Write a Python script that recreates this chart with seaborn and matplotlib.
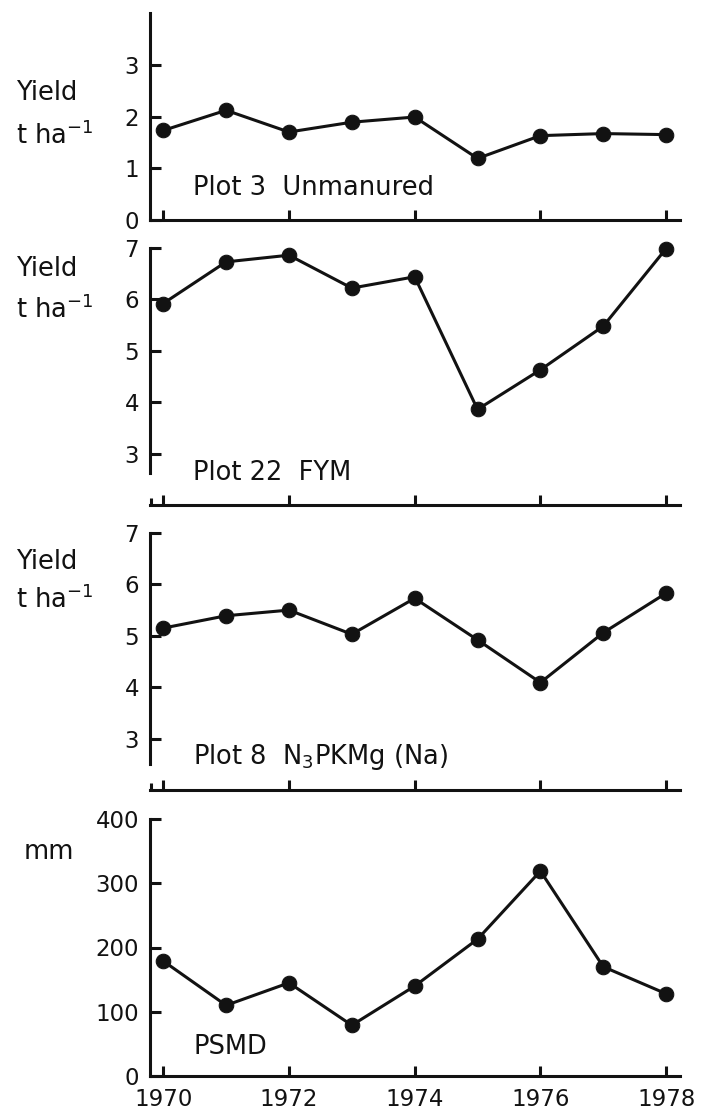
import matplotlib
matplotlib.use("Agg")
import matplotlib.pyplot as plt
import seaborn as sns
import pandas as pd
import numpy as np

# data
years = [1970, 1971, 1972, 1973, 1974, 1975, 1976, 1977, 1978]
plot3_unmanured = [1.73, 2.12, 1.70, 1.89, 1.99, 1.19, 1.63, 1.67, 1.65]
plot22_fym = [5.92, 6.73, 6.86, 6.22, 6.44, 3.86, 4.63, 5.48, 6.99]
plot8_n3pkmg = [5.15, 5.39, 5.50, 5.03, 5.73, 4.92, 4.09, 5.06, 5.83]
psmd_mm = [179, 110, 145, 79, 140, 213, 319, 170, 128]
year_ticks = [1970, 1972, 1974, 1976, 1978]

sns.set_style("ticks")
plt.rcParams['font.family'] = ['DejaVu Sans']
ink = "#121212"

fig = plt.figure(figsize=(7.05, 11.15), dpi=100)
fig.patch.set_facecolor("white")

W, H = 705.0, 1115.0
left, right = 150 / W, 530 / W

# (values, ylim, yticks, left spine bounds, axis top px, axis bottom px, label text, label y)
panels = [
    (plot3_unmanured, (0, 4), [0, 1, 2, 3], (0, 4), 13, 220, "Plot 3  Unmanured", 0.62),
    (plot22_fym, (2, 7), [3, 4, 5, 6, 7], (2.63, 7), 248, 505, "Plot 22  FYM", 2.63),
    (plot8_n3pkmg, (2, 7), [3, 4, 5, 6, 7], (2.5, 7), 533, 790, "Plot 8  N$_3$PKMg (Na)", 2.65),
    (psmd_mm, (0, 400), [0, 100, 200, 300, 400], (0, 400), 819, 1076, "PSMD", 45),
]

axes = []
for i, (vals, ylim, yt, bounds, top, bot, lab, laby) in enumerate(panels):
    ax = fig.add_axes([left, 1 - bot / H, right, (bot - top) / H])
    df = pd.DataFrame({"year": years, "value": vals})
    sns.lineplot(data=df, x="year", y="value", ax=ax, color=ink, linewidth=2.2,
                 marker="o", markersize=10.5, markeredgecolor=ink, markerfacecolor=ink,
                 clip_on=False)
    ax.set_xlim(1969.79, 1978.22)
    ax.set_ylim(*ylim)
    ax.set_yticks(yt)
    ax.set_xticks(year_ticks)
    ax.spines["top"].set_visible(False)
    ax.spines["right"].set_visible(False)
    for s in ("left", "bottom"):
        ax.spines[s].set_linewidth(2.2)
        ax.spines[s].set_color(ink)
    ax.spines["left"].set_bounds(*bounds)
    ax.tick_params(axis="y", direction="in", length=8, width=2.2, pad=8,
                   labelsize=16.5, colors=ink)
    ax.tick_params(axis="x", direction="in", length=7, width=2.2, pad=9,
                   labelsize=16.5, colors=ink)
    if bounds[0] > ylim[0]:
        # small end cap at the left end of the detached x axis
        ax.set_xticks([1969.8], minor=True)
        ax.tick_params(axis="x", which="minor", direction="in", length=5, width=2.2, colors=ink)
    if i < 3:
        ax.set_xticklabels([])
    ax.set_xlabel("")
    ax.set_ylabel("")
    ax.set_facecolor("none")
    ax.text(1970.48, laby, lab, fontsize=18.5, color=ink, va="center", ha="left")
    axes.append(ax)

# y axis unit labels, placed in figure pixels
def flabel(x, y, s):
    fig.text(x / W, 1 - y / H, s, fontsize=18.5, color=ink, va="center", ha="left")

flabel(16, 93, "Yield")
flabel(16, 136, "t ha$^{-1}$")
flabel(16, 269, "Yield")
flabel(16, 310, "t ha$^{-1}$")
flabel(16, 562, "Yield")
flabel(16, 600, "t ha$^{-1}$")
flabel(24, 852, "mm")

fig.savefig("out.png", dpi=100)
